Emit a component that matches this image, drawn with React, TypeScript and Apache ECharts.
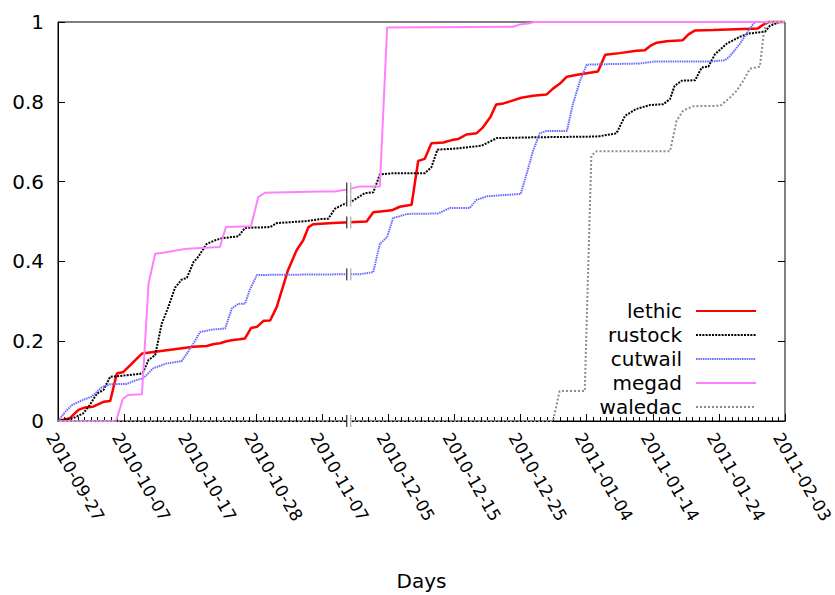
import React, { useEffect, useRef } from "react";
import * as echarts from "echarts";

// x values are in display-days (10 per labelled tick); axis is broken between 2010-11-07 and 2010-12-05
const dateLabels = [
  "2010-09-27", "2010-10-07", "2010-10-17", "2010-10-28", "2010-11-07", "2010-12-05",
  "2010-12-15", "2010-12-25", "2011-01-04", "2011-01-14", "2011-01-24", "2011-02-03",
];

const seriesNames = ["lethic", "rustock", "cutwail", "megad", "waledac"];

const lethic: [number, number][] = [
  [0, 0], [1.8, 0.007], [3.1, 0.028], [4.1, 0.034], [5.3, 0.036], [6.9, 0.048], [7.9, 0.05],
  [8.9, 0.119], [9.9, 0.123], [12.7, 0.169], [20.5, 0.186], [22.5, 0.188], [23.6, 0.193],
  [24.5, 0.195], [25.5, 0.2], [26.5, 0.203], [27.5, 0.205], [28.3, 0.207], [29.2, 0.233],
  [30.1, 0.236], [31.1, 0.251], [32.1, 0.252], [33.1, 0.286], [34.8, 0.378], [36.1, 0.428],
  [37.1, 0.453], [37.9, 0.486], [38.6, 0.493], [41.6, 0.496], [46.7, 0.5], [47.7, 0.523],
  [50.5, 0.528], [51.7, 0.537], [53.5, 0.542], [54.5, 0.652], [55.5, 0.657], [56.5, 0.696],
  [58.3, 0.698], [59.6, 0.704], [60.6, 0.707], [61.8, 0.718], [63.3, 0.721], [64.3, 0.736],
  [65.4, 0.761], [66.3, 0.793], [67.4, 0.796], [68.4, 0.801], [70.1, 0.81], [71.9, 0.815],
  [73.9, 0.818], [74.9, 0.833], [75.9, 0.845], [77.0, 0.863], [79.0, 0.869], [81.7, 0.876],
  [82.8, 0.918], [85.0, 0.922], [87.5, 0.928], [88.8, 0.929], [89.6, 0.94], [90.6, 0.948],
  [92.1, 0.952], [94.5, 0.954], [95.4, 0.969], [96.4, 0.979], [99.1, 0.98], [105.9, 0.984],
  [106.7, 0.993], [107.1, 0.997], [107.5, 1], [110, 1],
];

const rustock: [number, number][] = [
  [0, 0], [2.3, 0.007], [3.8, 0.019], [4.8, 0.04], [5.9, 0.069], [6.9, 0.078], [7.9, 0.111],
  [9.4, 0.113], [12.4, 0.118], [12.9, 0.123], [13.7, 0.153], [14.7, 0.165], [15.7, 0.244],
  [16.7, 0.286], [17.7, 0.334], [18.7, 0.354], [19.5, 0.359], [20.5, 0.398], [21.2, 0.411],
  [22.5, 0.444], [23.8, 0.453], [24.8, 0.458], [27.3, 0.463], [28.3, 0.484], [32.1, 0.486],
  [33.1, 0.496], [37.6, 0.501], [39.6, 0.506], [40.9, 0.507], [41.9, 0.532], [43.2, 0.543],
  [44.7, 0.553], [46.4, 0.571], [47.7, 0.573], [48.7, 0.618], [50.7, 0.621], [55.5, 0.621],
  [56.5, 0.636], [57.4, 0.68], [60.3, 0.683], [64.1, 0.69], [66.4, 0.709], [71.9, 0.711],
  [81.7, 0.713], [84.5, 0.721], [85.8, 0.765], [87.5, 0.782], [89.6, 0.792], [91.6, 0.794],
  [92.6, 0.807], [93.3, 0.84], [94.4, 0.853], [96.4, 0.854], [97.4, 0.886], [98.4, 0.888],
  [99.4, 0.919], [101.2, 0.946], [103.2, 0.963], [104.5, 0.971], [107.0, 0.976], [107.7, 0.99],
  [108.7, 0.997], [109.2, 1], [110, 1],
];

const cutwail: [number, number][] = [
  [0, 0], [1.1, 0.023], [2.1, 0.04], [3.8, 0.053], [5.1, 0.061], [6.6, 0.084], [7.9, 0.092],
  [10.4, 0.093], [11.9, 0.103], [12.9, 0.107], [14.4, 0.132], [16.4, 0.144], [18.7, 0.15],
  [20.2, 0.186], [21.5, 0.223], [23.3, 0.229], [25.3, 0.232], [26.3, 0.282], [27.3, 0.294],
  [28.3, 0.294], [29.0, 0.328], [30.1, 0.366], [45.7, 0.368], [47.7, 0.373], [48.7, 0.444],
  [49.8, 0.461], [50.7, 0.509], [51.7, 0.513], [52.8, 0.519], [57.5, 0.52], [59.3, 0.534],
  [62.3, 0.534], [63.3, 0.554], [64.9, 0.563], [66.4, 0.565], [68.1, 0.567], [70.0, 0.569],
  [70.9, 0.619], [71.9, 0.678], [72.9, 0.721], [73.9, 0.727], [77.0, 0.727], [77.9, 0.794],
  [79.0, 0.853], [80.0, 0.893], [82.0, 0.894], [88.0, 0.896], [90.3, 0.901], [98.6, 0.901],
  [100.9, 0.904], [101.7, 0.915], [103.2, 0.946], [104.5, 0.979], [105.3, 0.997], [105.6, 1],
  [110, 1],
];

const megad: [number, number][] = [
  [0, 0], [8.8, 0], [9.8, 0.055], [10.6, 0.065], [12.7, 0.067], [13.7, 0.344], [14.7, 0.419],
  [16.4, 0.423], [18.5, 0.429], [19.5, 0.432], [24.5, 0.436], [25.4, 0.486], [29.2, 0.488],
  [30.3, 0.561], [31.3, 0.572], [39.6, 0.575], [41.9, 0.575], [43.7, 0.58], [45.7, 0.588],
  [48.7, 0.588], [49.8, 0.986], [68.9, 0.988], [69.9, 0.994], [71.4, 0.997], [72.0, 1], [110, 1],
];

const waledac: [number, number][] = [
  [0, 0], [74.9, 0], [75.9, 0.075], [79.7, 0.075], [80.7, 0.665], [81.5, 0.676], [92.6, 0.676],
  [93.6, 0.753], [94.6, 0.778], [96.1, 0.789], [100.2, 0.79], [101.7, 0.811], [102.7, 0.828],
  [103.7, 0.853], [104.7, 0.883], [106.2, 0.888], [106.8, 0.975], [107.2, 0.997], [107.6, 1],
  [110, 1],
];

// axis-break marks (x position of the break, y where each curve / axis crosses it)
const breakX = 44;
const breakYs = [0, 0.3675, 0.4975, 0.5525, 0.5825];

const FONT = "DejaVu Sans";

export default function App() {
  const ref = useRef<HTMLDivElement>(null);

  useEffect(() => {
    if (!ref.current) return;
    const chart = echarts.init(ref.current, null, { renderer: "svg" });

    const lineSeries = (name: string, data: [number, number][], color: string, width: number, type: any) => ({
      name,
      type: "line",
      data,
      symbol: "none",
      showSymbol: false,
      clip: false,
      lineStyle: { color, width, type },
      itemStyle: { color },
      z: 3,
    });

    const option: any = {
      animation: false,
      backgroundColor: "#fff",
      textStyle: { fontFamily: FONT },
      grid: {
        left: 58,
        right: 50,
        top: 22,
        bottom: 174,
        outerBoundsMode: "none",
        containLabel: false,
        show: true,
        borderColor: "#000",
        borderWidth: 1,
      },
      legend: {
        orient: "vertical",
        align: "right",
        right: 78,
        top: 301,
        padding: 0,
        itemWidth: 60,
        itemHeight: 14,
        itemGap: 4,
        selectedMode: false,
        itemStyle: { opacity: 0 },
        data: seriesNames,
        textStyle: { fontFamily: FONT, fontSize: 20, color: "#000", lineHeight: 20, padding: [0, 9, 0, 0] },
      },
      xAxis: {
        type: "value",
        min: 0,
        max: 110,
        interval: 10,
        name: "Days",
        nameLocation: "middle",
        nameGap: 150,
        nameTextStyle: { fontFamily: FONT, fontSize: 20, color: "#000" },
        splitLine: { show: false },
        axisLine: { show: true, lineStyle: { color: "#000", width: 1 } },
        axisTick: { show: true, inside: true, length: 7, lineStyle: { color: "#000" } },
        minorTick: { show: true, splitNumber: 10, length: 4, lineStyle: { color: "#000" } },
        axisLabel: {
          rotate: -60,
          margin: 9,
          fontFamily: FONT,
          fontSize: 17,
          color: "#000",
          align: "left",
          verticalAlign: "top",
          showMinLabel: true,
          showMaxLabel: true,
          formatter: (v: number) => dateLabels[Math.round(v / 10)] ?? "",
        },
      },
      yAxis: [
        {
          type: "value",
          min: 0,
          max: 1,
          interval: 0.2,
          splitLine: { show: false },
          axisLine: { show: true, lineStyle: { color: "#000", width: 1 } },
          axisTick: { show: true, inside: true, length: 7, lineStyle: { color: "#000" } },
          axisLabel: { margin: 14, fontFamily: FONT, fontSize: 20, color: "#000" },
        },
        {
          type: "value",
          position: "right",
          min: 0,
          max: 1,
          interval: 0.2,
          splitLine: { show: false },
          axisLine: { show: false },
          axisTick: { show: true, inside: true, length: 7, lineStyle: { color: "#000" } },
          axisLabel: { show: false },
        },
      ],
      series: [
        lineSeries("lethic", lethic, "#ff0000", 2.5, "solid"),
        lineSeries("rustock", rustock, "#000000", 2, [2, 1.2]),
        lineSeries("cutwail", cutwail, "#6a6aff", 2, [1.5, 0.8]),
        lineSeries("megad", megad, "#ff80ff", 2, "solid"),
        lineSeries("waledac", waledac, "#8c8c8c", 2, [2, 2]),
        {
          name: "break",
          type: "custom",
          coordinateSystem: "cartesian2d",
          silent: true,
          clip: false,
          z: 10,
          data: breakYs.map((y) => [breakX, y]),
          renderItem: (_params: any, api: any) => {
            const p = api.coord([api.value(0), api.value(1)]);
            return {
              type: "group",
              children: [
                { type: "rect", shape: { x: p[0] - 2.5, y: p[1] - 6, width: 5, height: 12 }, style: { fill: "#fff" } },
                { type: "line", shape: { x1: p[0] - 2, y1: p[1] - 6, x2: p[0] - 2, y2: p[1] + 6 }, style: { stroke: "#000", lineWidth: 1 } },
                { type: "line", shape: { x1: p[0] + 2, y1: p[1] - 6, x2: p[0] + 2, y2: p[1] + 6 }, style: { stroke: "#999", lineWidth: 1 } },
              ],
            };
          },
        },
      ],
    };

    chart.setOption(option);
    return () => chart.dispose();
  }, []);

  return (
    <div
      ref={ref}
      style={{ position: "fixed", left: 0, top: 0, width: 835, height: 595, background: "#fff" }}
    />
  );
}
